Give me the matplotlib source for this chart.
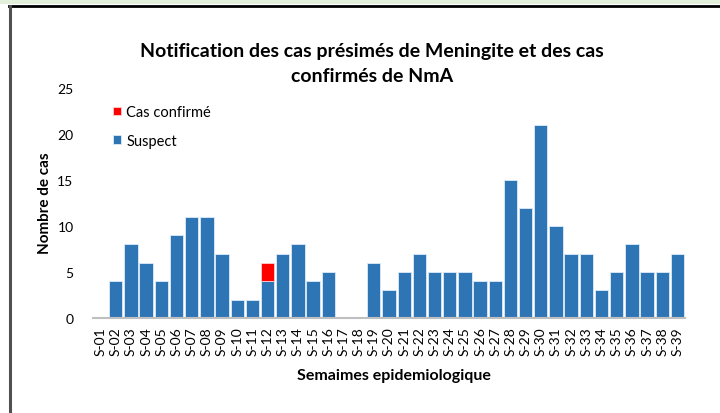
"""Notification des cas présimés de Meningite et des cas confirmés de NmA."""

import matplotlib

matplotlib.use("Agg")
from matplotlib import pyplot
from matplotlib.lines import Line2D

weeks = [f"S-{i:02d}" for i in range(1, 40)]
suspect = [0, 4, 8, 6, 4, 9, 11, 11, 7, 2, 2, 4, 7, 8, 4, 5, 0, 0, 6, 3,
           5, 7, 5, 5, 5, 4, 4, 15, 12, 21, 10, 7, 7, 3, 5, 8, 5, 5, 7]
confirmed = [0] * 39
confirmed[11] = 2

BLUE = "#2E75B6"
RED = "#FF0000"
FONT = ["Lato", "DejaVu Sans"]

pyplot.rcParams["font.family"] = FONT

fig = pyplot.figure(figsize=(7.2, 4.14), dpi=100)
W, H = 720, 414

# outer frame pieces
fig.add_artist(pyplot.Rectangle((0, 1 - 5 / H), 1, 5 / H, transform=fig.transFigure,
                                color="#E2EFDA", lw=0))
fig.add_artist(Line2D([9 / W, 1], [1 - 7 / H, 1 - 7 / H], transform=fig.transFigure,
                      color="black", lw=2))
fig.add_artist(Line2D([10 / W, 10 / W], [0, 1 - 7 / H], transform=fig.transFigure,
                      color="#505050", lw=2.2))

ax = fig.add_axes([93 / W, (H - 319) / H, (685 - 93) / W, (319 - 89) / H])
x = list(range(len(weeks)))
ax.bar(x, suspect, width=0.88, color=BLUE, edgecolor="#DDEBF7", linewidth=0.6,
       label="Suspect", zorder=2)
# only weeks with confirmed cases get a red segment on top
cx = [i for i in x if confirmed[i] > 0]
ax.bar(cx, [confirmed[i] for i in cx], bottom=[suspect[i] for i in cx], width=0.88,
       color=RED, edgecolor="#FFD0D0", linewidth=0.6, label="Cas confirmé", zorder=2)

ax.set_xlim(-0.5, len(weeks) - 0.5)
ax.set_ylim(0, 25)
ax.set_yticks([0, 5, 10, 15, 20, 25])
ax.set_xticks(x)
ax.set_xticklabels(weeks, rotation=90, fontsize=10)
ax.tick_params(axis="y", labelsize=10, length=0, pad=14)
ax.tick_params(axis="x", length=0, pad=6)
for side in ("top", "right", "left"):
    ax.spines[side].set_visible(False)
ax.spines["bottom"].set_color("#BFBFBF")
ax.spines["bottom"].set_linewidth(1.5)

fig.text(45 / W, 1 - 203 / H, "Nombre de cas", fontsize=11, fontweight="bold",
         ha="center", va="center", rotation=90)
fig.text(394 / W, 1 - 376 / H, "Semaimes epidemiologique", fontsize=11.5,
         fontweight="bold", ha="center", va="center")
fig.text(372 / W, 1 - 64 / H,
         "Notification des cas présimés de Meningite et des cas\nconfirmés de NmA",
         fontsize=14, fontweight="bold", ha="center", va="center", linespacing=1.6)

handles, labels = ax.get_legend_handles_labels()
ax.legend(handles[::-1], labels[::-1], loc="upper left", bbox_to_anchor=(0.011, 0.982),
          frameon=False, fontsize=10.5, handlelength=0.55, handleheight=0.55,
          labelspacing=1.0, handletextpad=0.4)

fig.savefig("out.png", dpi=100)
